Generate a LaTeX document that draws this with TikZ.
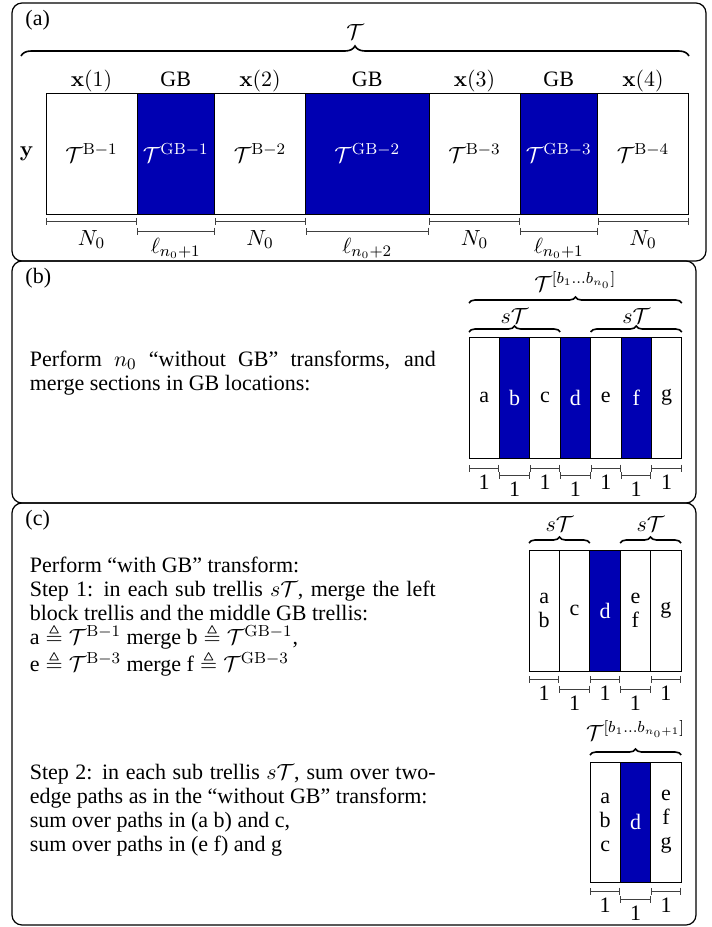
\documentclass[tikz,border=0pt]{standalone}
\usepackage{amsmath,amssymb}
\usepackage[no-math]{fontspec}
\setmainfont{Liberation Serif}
\usepackage{tikz}
\usetikzlibrary{positioning,decorations.pathreplacing,arrows.meta}
\definecolor{gbblue}{RGB}{0,0,178}

\begin{document}
\begin{tikzpicture}[x=0.5pt,y=-0.5pt,thick,font=\fontsize{11}{12}\selectfont,
  frame/.style={draw,line width=0.6pt,rounded corners=5pt},
  bcol/.style={draw,line width=0.5pt,fill=white,inner sep=0pt,outer sep=0pt,minimum height=60.5pt},
  gbcol/.style={bcol,fill=gbblue,text=white},
  ncol/.style={bcol,minimum width=15.2pt,align=center},
  ngb/.style={gbcol,minimum width=15.2pt},
  hdr/.style={anchor=base},
  brc/.style={decorate,decoration={brace,amplitude=3pt},line width=0.8pt},
  dim/.style={{Bar[width=3.5pt]}-{Bar[width=3.5pt]},line width=0.5pt,draw=black!75},
  txt/.style={anchor=north west,text width=203pt,align=justify,inner sep=0pt}]
  \useasboundingbox (0,0) rectangle (712,927);

  % (a) the whole trellis
  \draw[frame] (12,3) rectangle (706,261);
  \node[anchor=base west] (la) at (18,25) {(a)};
  \node[bcol,anchor=north west,minimum width=45.5pt] (b1) at (46,93) {$\mathcal{T}^{\mathrm{B-1}}$};
  \node[gbcol,minimum width=38.75pt,right=0pt of b1] (g1) {$\mathcal{T}^{\mathrm{GB-1}}$};
  \node[bcol,minimum width=45.5pt,right=0pt of g1] (b2) {$\mathcal{T}^{\mathrm{B-2}}$};
  \node[gbcol,minimum width=61.75pt,right=0pt of b2] (g2) {$\mathcal{T}^{\mathrm{GB-2}}$};
  \node[bcol,minimum width=45.5pt,right=0pt of g2] (b3) {$\mathcal{T}^{\mathrm{B-3}}$};
  \node[gbcol,minimum width=38.75pt,right=0pt of b3] (g3) {$\mathcal{T}^{\mathrm{GB-3}}$};
  \node[bcol,minimum width=45.5pt,right=0pt of g3] (b4) {$\mathcal{T}^{\mathrm{B-4}}$};
  \node[left=2.5pt of b1] (ylab) {$\mathbf{y}$};
  \node[hdr] (hx1) at ([yshift=3.5pt]b1.north) {$\mathbf{x}(1)$};
  \node[hdr] (hg1) at ([yshift=3.5pt]g1.north) {GB};
  \node[hdr] (hx2) at ([yshift=3.5pt]b2.north) {$\mathbf{x}(2)$};
  \node[hdr] (hg2) at ([yshift=3.5pt]g2.north) {GB};
  \node[hdr] (hx3) at ([yshift=3.5pt]b3.north) {$\mathbf{x}(3)$};
  \node[hdr] (hg3) at ([yshift=3.5pt]g3.north) {GB};
  \node[hdr] (hx4) at ([yshift=3.5pt]b4.north) {$\mathbf{x}(4)$};
  \coordinate (bl) at (21,56);
  \coordinate (br) at (689,56);
  \draw[brc,decoration={amplitude=5pt}] (bl) -- (br) node[midway,above=7pt,inner sep=1pt] (tall) {$\mathcal{T}$};
  \draw[dim] ([yshift=-3.5pt]b1.south west) -- ([yshift=-3.5pt]b1.south east) node[midway,below=1pt] (d1) {$N_0$};
  \draw[dim] ([yshift=-8.5pt]g1.south west) -- ([yshift=-8.5pt]g1.south east) node[midway,below] (d2) {$\ell_{n_0+1}$};
  \draw[dim] ([yshift=-3.5pt]b2.south west) -- ([yshift=-3.5pt]b2.south east) node[midway,below=1pt] (d3) {$N_0$};
  \draw[dim] ([yshift=-8.5pt]g2.south west) -- ([yshift=-8.5pt]g2.south east) node[midway,below] (d4) {$\ell_{n_0+2}$};
  \draw[dim] ([yshift=-3.5pt]b3.south west) -- ([yshift=-3.5pt]b3.south east) node[midway,below=1pt] (d5) {$N_0$};
  \draw[dim] ([yshift=-8.5pt]g3.south west) -- ([yshift=-8.5pt]g3.south east) node[midway,below] (d6) {$\ell_{n_0+1}$};
  \draw[dim] ([yshift=-3.5pt]b4.south west) -- ([yshift=-3.5pt]b4.south east) node[midway,below=1pt] (d7) {$N_0$};

  % (b) after the n_0 transforms
  \draw[frame] (12,261) rectangle (696,503);
  \node[anchor=base west] (lb) at (18,283) {(b)};
  \node[txt] (tb) at (29,350) {Perform $n_0$ “without GB” transforms, and merge sections in GB locations:};
  \node[ncol,anchor=north west] (pa) at (469,337) {a};
  \node[ngb,right=0pt of pa] (pb) {b};
  \node[ncol,right=0pt of pb] (pc) {c};
  \node[ngb,right=0pt of pc] (pd) {d};
  \node[ncol,right=0pt of pd] (pe) {e};
  \node[ngb,right=0pt of pe] (pf) {f};
  \node[ncol,right=0pt of pf] (pg) {g};
  \draw[brc] ([yshift=2.5pt]pa.north west) -- ([yshift=2.5pt]pc.north east) node[midway,above=3pt,inner sep=1pt] (sb1) {$s\mathcal{T}$};
  \draw[brc] ([yshift=2.5pt]pe.north west) -- ([yshift=2.5pt]pg.north east) node[midway,above=3pt,inner sep=1pt] (sb2) {$s\mathcal{T}$};
  \draw[brc] ([yshift=17pt]pa.north west) -- ([yshift=17pt]pg.north east) node[midway,above=4.5pt,inner sep=1pt] (tbn) {$\mathcal{T}^{[b_1\dots b_{n_0}]}$};
  \draw[dim] ([yshift=-5pt]pa.south west) -- ([yshift=-5pt]pa.south east) node[midway,below] (e1) {1};
  \draw[dim] ([yshift=-8.5pt]pb.south west) -- ([yshift=-8.5pt]pb.south east) node[midway,below] (e2) {1};
  \draw[dim] ([yshift=-5pt]pc.south west) -- ([yshift=-5pt]pc.south east) node[midway,below] (e3) {1};
  \draw[dim] ([yshift=-8.5pt]pd.south west) -- ([yshift=-8.5pt]pd.south east) node[midway,below] (e4) {1};
  \draw[dim] ([yshift=-5pt]pe.south west) -- ([yshift=-5pt]pe.south east) node[midway,below] (e5) {1};
  \draw[dim] ([yshift=-8.5pt]pf.south west) -- ([yshift=-8.5pt]pf.south east) node[midway,below] (e6) {1};
  \draw[dim] ([yshift=-5pt]pg.south west) -- ([yshift=-5pt]pg.south east) node[midway,below] (e7) {1};

  % (c) the with-GB transform
  \draw[frame] (12,503) rectangle (696,925);
  \node[anchor=base west] (lc) at (18,525) {(c)};
  \node[txt] (tc1) at (29,556) {Perform “with GB” transform:\\
    Step 1: in each sub trellis $s\mathcal{T}$, merge the left block trellis and the middle GB trellis:\\
    a${}\triangleq\mathcal{T}^{\mathrm{B-1}}$ merge b${}\triangleq\mathcal{T}^{\mathrm{GB-1}}$,\\
    e${}\triangleq\mathcal{T}^{\mathrm{B-3}}$ merge f${}\triangleq\mathcal{T}^{\mathrm{GB-3}}$};
  \node[ncol,anchor=north west] (qa) at (529,550) {a\\b};
  \node[ncol,right=0pt of qa] (qc) {c};
  \node[ngb,right=0pt of qc] (qd) {d};
  \node[ncol,right=0pt of qd] (qe) {e\\f};
  \node[ncol,right=0pt of qe] (qg) {g};
  \draw[brc] ([yshift=3.5pt]qa.north west) -- ([yshift=3.5pt]qc.north east) node[midway,above=4.5pt,inner sep=1pt] (sc1) {$s\mathcal{T}$};
  \draw[brc] ([yshift=3.5pt]qe.north west) -- ([yshift=3.5pt]qg.north east) node[midway,above=4.5pt,inner sep=1pt] (sc2) {$s\mathcal{T}$};
  \draw[dim] ([yshift=-4pt]qa.south west) -- ([yshift=-4pt]qa.south east) node[midway,below] (f1) {1};
  \draw[dim] ([yshift=-9pt]qc.south west) -- ([yshift=-9pt]qc.south east) node[midway,below] (f2) {1};
  \draw[dim] ([yshift=-4pt]qd.south west) -- ([yshift=-4pt]qd.south east) node[midway,below] (f3) {1};
  \draw[dim] ([yshift=-9pt]qe.south west) -- ([yshift=-9pt]qe.south east) node[midway,below] (f4) {1};
  \draw[dim] ([yshift=-4pt]qg.south west) -- ([yshift=-4pt]qg.south east) node[midway,below] (f5) {1};

  \node[txt] (tc2) at (29,763) {Step 2: in each sub trellis $s\mathcal{T}$, sum over two-\linebreak
    edge paths as in the “without GB” transform:\\
    sum over paths in (a b) and c,\\
    sum over paths in (e f) and g};
  \node[ncol,anchor=north west,minimum height=60pt] (ra) at (590,762) {a\\b\\c};
  \node[ngb,minimum height=60pt,right=0pt of ra] (rd) {d};
  \node[ncol,minimum height=60pt,right=0pt of rd] (re) {e\\f\\g};
  \draw[brc] ([yshift=3.5pt]ra.north west) -- ([yshift=3.5pt]re.north east) node[midway,above=6pt,inner sep=1pt] (tbn1) {$\mathcal{T}^{[b_1\dots b_{n_0+1}]}$};
  \draw[dim] ([yshift=-4.5pt]ra.south west) -- ([yshift=-4.5pt]ra.south east) node[midway,below] (h1) {1};
  \draw[dim] ([yshift=-8.5pt]rd.south west) -- ([yshift=-8.5pt]rd.south east) node[midway,below] (h2) {1};
  \draw[dim] ([yshift=-4.5pt]re.south west) -- ([yshift=-4.5pt]re.south east) node[midway,below] (h3) {1};
\end{tikzpicture}
\end{document}
